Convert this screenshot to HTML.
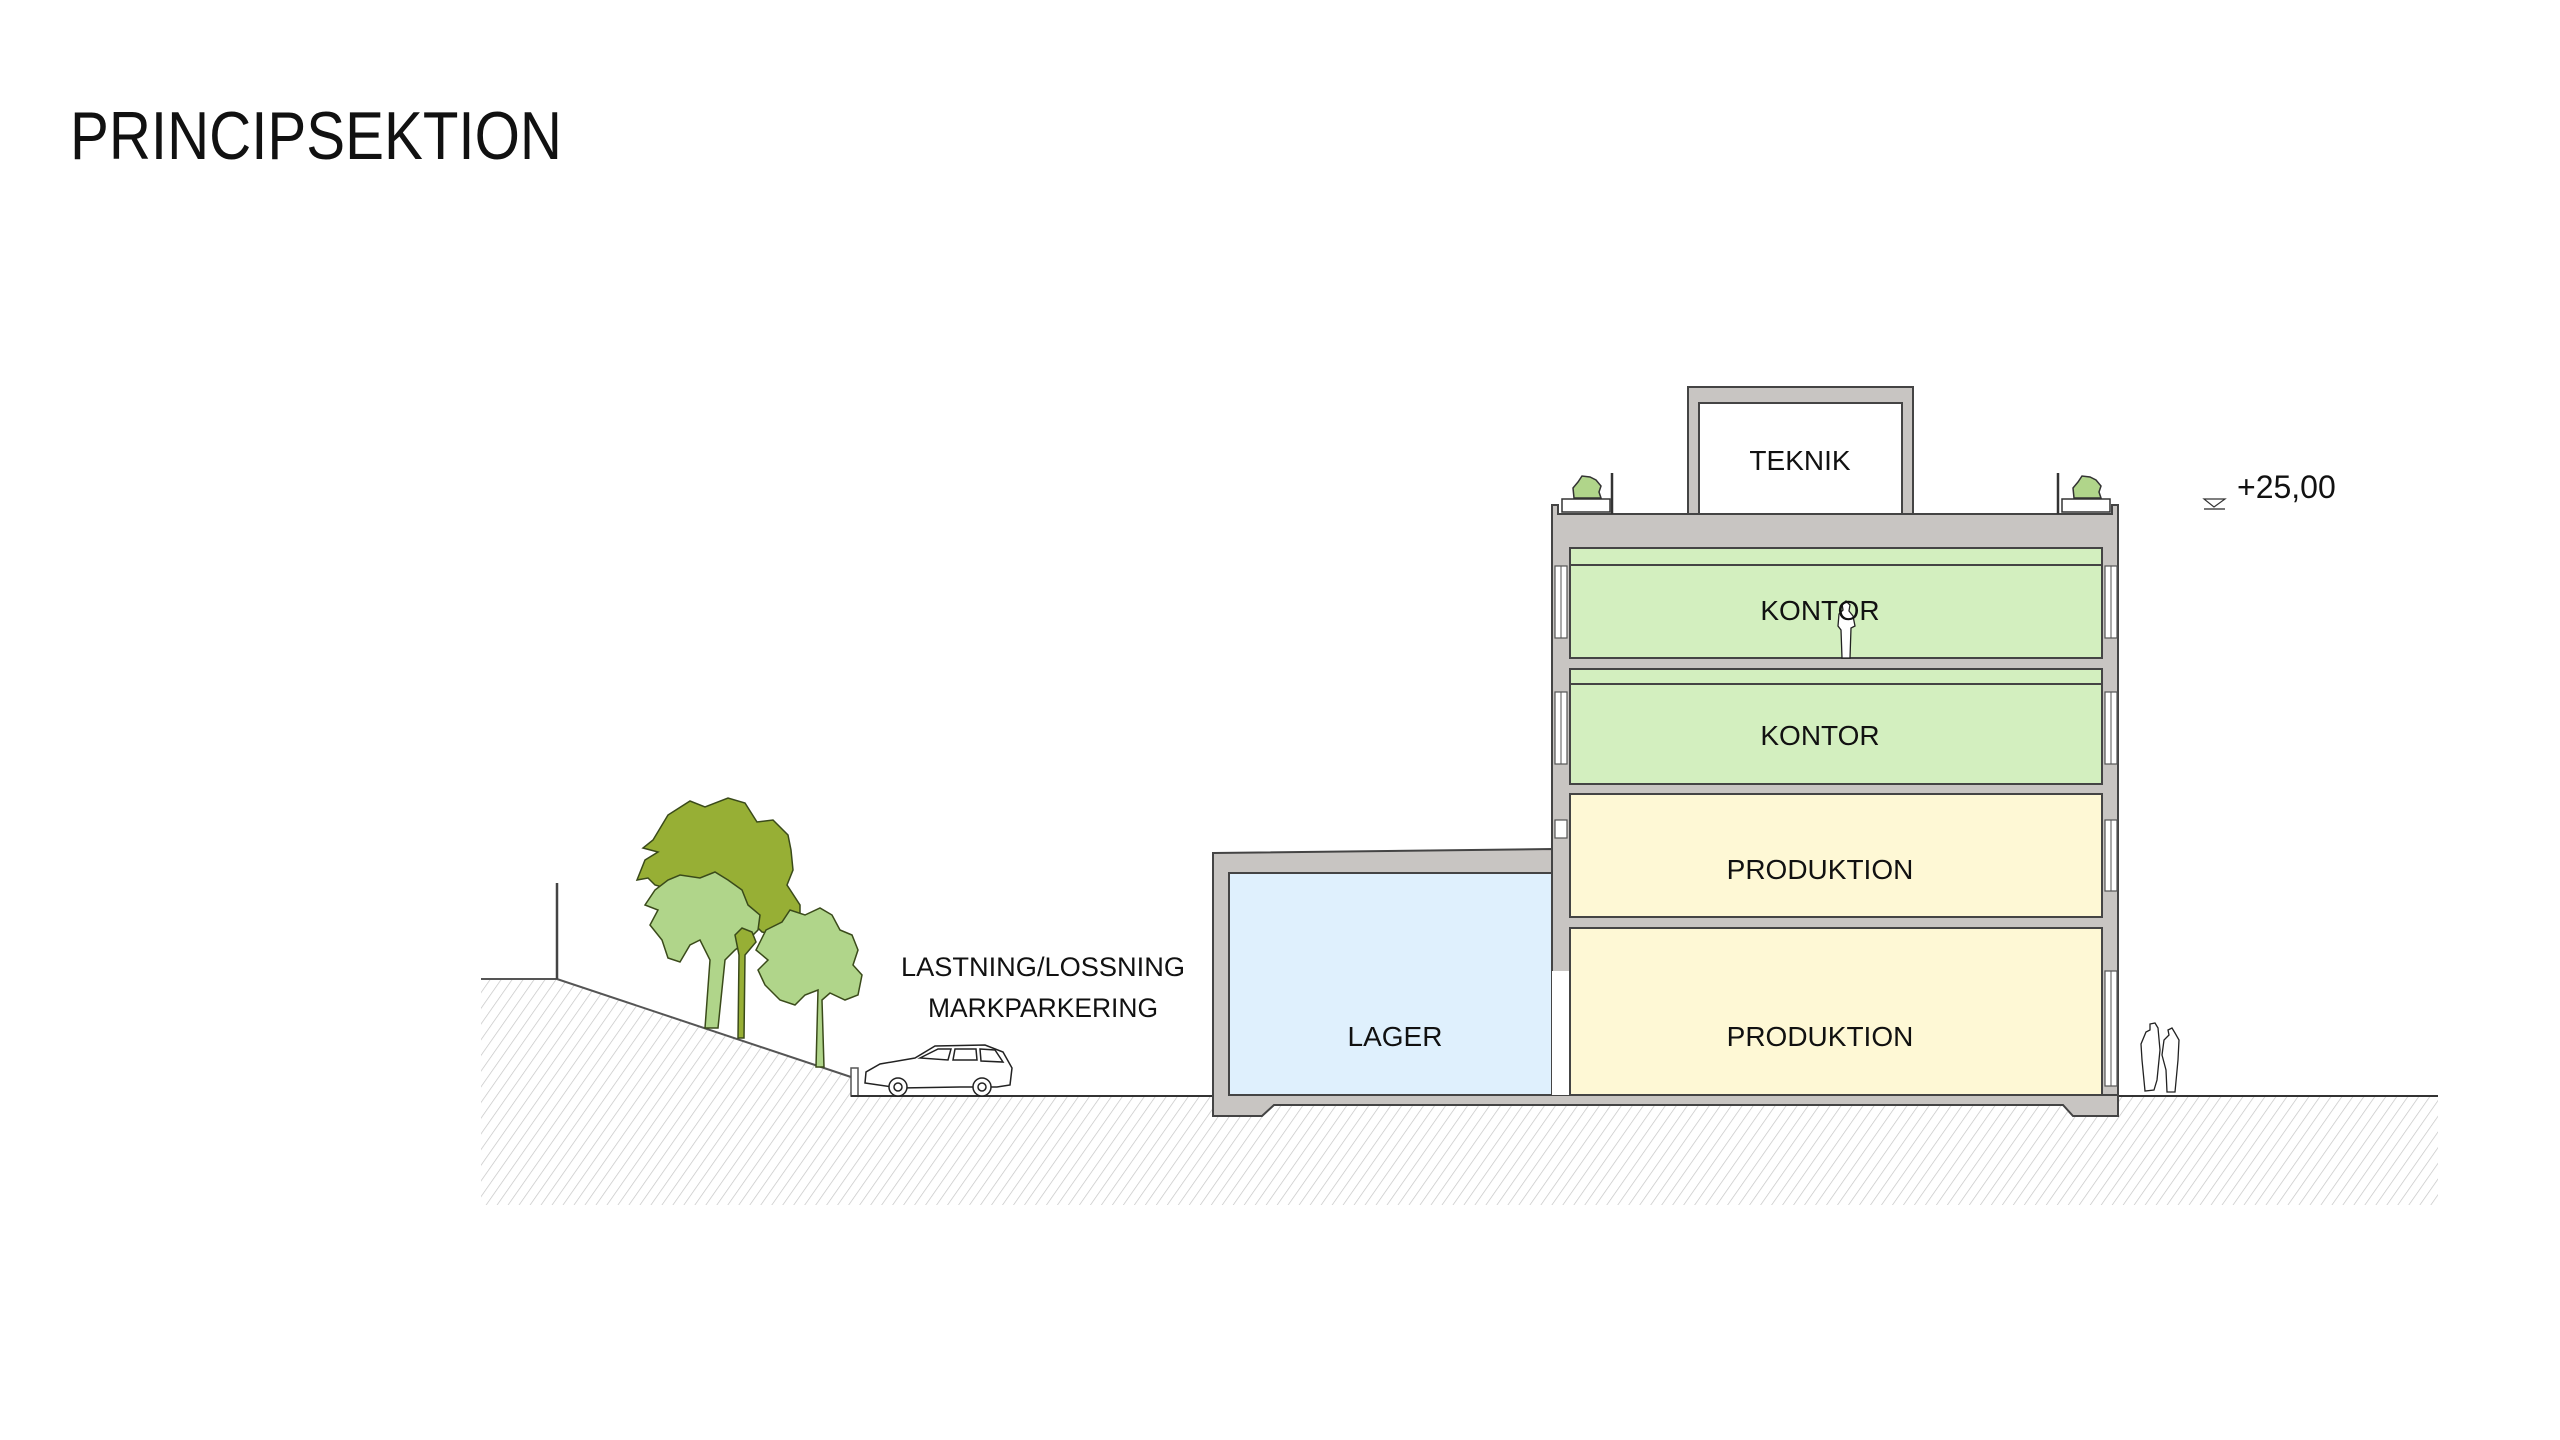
<!DOCTYPE html>
<html><head><meta charset="utf-8"><style>
html,body{margin:0;padding:0;background:#fff;}
svg{display:block;}
text{font-family:"Liberation Sans",sans-serif;fill:#111;}
</style></head><body>
<svg width="2560" height="1440" viewBox="0 0 2560 1440" xmlns="http://www.w3.org/2000/svg">
<defs>
<pattern id="h" width="9" height="9" patternUnits="userSpaceOnUse" patternTransform="rotate(35)">
<line x1="0" y1="0" x2="0" y2="9" stroke="#c4c4c4" stroke-width="1.4"/>
</pattern>
</defs>
<rect width="2560" height="1440" fill="#fff"/>
<text x="70" y="159" font-size="68" textLength="492" lengthAdjust="spacingAndGlyphs" fill="#fff" stroke="#111" stroke-width="0" style="fill:#111">PRINCIPSEKTION</text>

<!-- ground -->
<polygon points="481,979 557,979 851,1077 851,1096 2438,1096 2438,1205 481,1205" fill="url(#h)"/>
<polyline points="481,979 557,979 851,1077" fill="none" stroke="#555" stroke-width="2"/>
<line x1="557" y1="883" x2="557" y2="979" stroke="#444" stroke-width="2.5"/>
<rect x="851" y="1068" width="7" height="28" fill="#fff" stroke="#555" stroke-width="1.5"/>
<line x1="851" y1="1096" x2="2438" y2="1096" stroke="#333" stroke-width="2"/>

<!-- trees -->
<g stroke="#3a4a1a" stroke-width="1.5">
<path d="M653,840 L668,815 L690,801 L705,807 L728,798 L745,803 L757,822 L773,820 L788,835 L791,850 L793,870 L787,885 L800,905 L800,925 L790,940 L777,935 L762,932 L745,915 L735,925 L720,915 L700,920 L690,935 L675,930 L664,915 L660,900 L673,890 L655,885 L648,878 L637,880 L645,860 L658,852 L643,848 Z" fill="#97af35"/>
<path d="M705,1028 L710,960 L700,940 L690,945 L680,962 L668,958 L662,940 L650,925 L658,910 L645,905 L655,890 L668,880 L680,875 L700,878 L715,872 L728,880 L742,890 L748,905 L760,915 L758,930 L748,940 L735,950 L725,960 L718,1028 Z" fill="#b0d58a"/>
<path d="M738,1038 L739,955 L735,935 L742,928 L752,932 L756,942 L745,955 L744,1038 Z" fill="#97af35"/>
<path d="M816,1067 L818,990 L805,995 L795,1005 L780,1000 L765,985 L758,970 L768,960 L756,950 L766,930 L782,922 L790,910 L805,915 L820,908 L832,915 L840,930 L852,935 L858,950 L853,965 L862,975 L858,995 L845,1000 L830,993 L822,1000 L824,1067 Z" fill="#b0d58a"/>
</g>

<!-- car -->
<g fill="#fff" stroke="#222" stroke-width="1.5">
<path d="M865,1083 L866,1072 L880,1064 L915,1058 L935,1046 L985,1045 L1003,1052 L1012,1068 L1010,1085 L997,1087 L960,1087 L900,1088 Z"/>
<path d="M920,1058 L938,1049 L951,1049 L948,1060 Z M955,1049 L976,1049 L977,1060 L953,1060 Z M980,1049 L995,1050 L1003,1062 L981,1061 Z"/>
<circle cx="898" cy="1087" r="9"/><circle cx="898" cy="1087" r="4"/>
<circle cx="982" cy="1087" r="9"/><circle cx="982" cy="1087" r="4"/>
</g>
<text x="1043" y="976" font-size="27" text-anchor="middle" textLength="284" lengthAdjust="spacingAndGlyphs">LASTNING/LOSSNING</text>
<text x="1043" y="1017" font-size="27" text-anchor="middle" textLength="230" lengthAdjust="spacingAndGlyphs">MARKPARKERING</text>

<!-- building structure gray -->
<g fill="#c8c5c2" stroke="#444" stroke-width="2">
<polygon points="1213,853 1552,849 1552,1095 2118,1095 2118,1116 2073,1116 2063,1105 1274,1105 1262,1116 1213,1116"/>
<polygon points="1552,505 1558,505 1558,514 2112,514 2112,505 2118,505 2118,1095 1552,1095"/>
<rect x="1688" y="387" width="225" height="127"/>
</g>
<!-- lager -->
<rect x="1229" y="873" width="323" height="222" fill="#dff0fd" stroke="#444" stroke-width="2"/>
<rect x="1552" y="971" width="18" height="124" fill="#fff"/>
<!-- teknik -->
<rect x="1699" y="403" width="203" height="111" fill="#fff" stroke="#444" stroke-width="2"/>
<!-- floors -->
<g stroke="#444" stroke-width="2">
<rect x="1570" y="548" width="532" height="110" fill="#d3efbf"/>
<line x1="1570" y1="565" x2="2102" y2="565"/>
<rect x="1570" y="669" width="532" height="115" fill="#d3efbf"/>
<line x1="1570" y1="684" x2="2102" y2="684"/>
<rect x="1570" y="794" width="532" height="123" fill="#fef8d5"/>
<rect x="1570" y="928" width="532" height="167" fill="#fef8d5"/>
</g>
<!-- windows -->
<g fill="#fff" stroke="#555" stroke-width="1.2">
<rect x="1555" y="566" width="12" height="72"/><rect x="2105" y="566" width="12" height="72"/>
<rect x="1555" y="692" width="12" height="72"/><rect x="2105" y="692" width="12" height="72"/>
<rect x="1555" y="820" width="12" height="18"/><rect x="2105" y="820" width="12" height="71"/>
<rect x="2105" y="971" width="12" height="115"/>
</g>
<g stroke="#555" stroke-width="1"><line x1="1561" y1="566" x2="1561" y2="638"/><line x1="2111" y1="566" x2="2111" y2="638"/><line x1="1561" y1="692" x2="1561" y2="764"/><line x1="2111" y1="692" x2="2111" y2="764"/><line x1="2111" y1="820" x2="2111" y2="891"/><line x1="2111" y1="971" x2="2111" y2="1086"/></g>

<!-- roof planters -->
<g stroke="#333" stroke-width="1.5">
<rect x="1562" y="499" width="48" height="13" fill="#fff"/>
<rect x="2062" y="499" width="48" height="13" fill="#fff"/>
<path d="M1574,498 L1573,488 L1578,482 L1582,476 L1590,477 L1596,480 L1601,486 L1599,492 L1601,498 Z" fill="#b0d58a"/>
<path d="M2074,498 L2073,488 L2078,482 L2082,476 L2090,477 L2096,480 L2101,486 L2099,492 L2101,498 Z" fill="#b0d58a"/>
<line x1="1612" y1="473" x2="1612" y2="514" stroke-width="2.5"/>
<line x1="2058" y1="473" x2="2058" y2="514" stroke-width="2.5"/>
</g>

<!-- people -->
<g fill="#fff" stroke="#222" stroke-width="1.3">
<path d="M1842,658 L1841,630 L1838,626 L1839,614 L1843,610 L1842,604 L1846,601 L1850,605 L1849,611 L1853,616 L1855,626 L1851,628 L1850,658 Z"/>
<path d="M2145,1091 L2142,1060 L2141,1044 L2146,1032 L2150,1030 L2150,1024 L2155,1023 L2158,1028 L2160,1050 L2157,1080 L2154,1090 Z"/>
<path d="M2167,1092 L2166,1070 L2162,1055 L2164,1040 L2169,1035 L2168,1030 L2172,1028 L2175,1033 L2179,1040 L2178,1060 L2175,1092 Z"/>
</g>

<!-- labels -->
<text x="1800" y="470" font-size="28" text-anchor="middle">TEKNIK</text>
<text x="1820" y="620" font-size="28" text-anchor="middle">KONTOR</text>
<text x="1820" y="745" font-size="28" text-anchor="middle">KONTOR</text>
<text x="1820" y="879" font-size="28" text-anchor="middle">PRODUKTION</text>
<text x="1820" y="1046" font-size="28" text-anchor="middle">PRODUKTION</text>
<text x="1395" y="1046" font-size="28" text-anchor="middle">LAGER</text>

<!-- level -->
<polygon points="2204,499 2225,499 2214,507" fill="#fff" stroke="#333" stroke-width="1.2"/>
<line x1="2204" y1="509" x2="2225" y2="509" stroke="#777" stroke-width="2"/>
<text x="2237" y="498" font-size="32">+25,00</text>
</svg>
</body></html>
